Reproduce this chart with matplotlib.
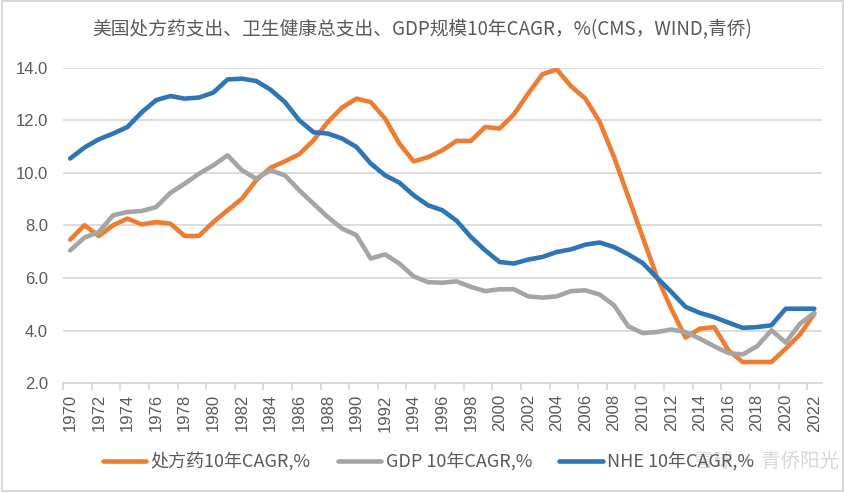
import numpy as np
import matplotlib.pyplot as plt

plt.rcParams['font.family'] = ['Noto Sans CJK SC', 'DejaVu Sans']

years = np.arange(1970, 2023)

rx_cagr = [7.46, 8.01, 7.60, 8.01, 8.26, 8.04, 8.13, 8.07, 7.60, 7.60,
           8.13, 8.58, 9.02, 9.72, 10.20, 10.44, 10.71, 11.24, 11.94, 12.49,
           12.83, 12.70, 12.07, 11.12, 10.44, 10.60, 10.86, 11.22, 11.22, 11.75,
           11.69, 12.23, 13.02, 13.76, 13.94, 13.30, 12.83, 11.94, 10.61, 9.09,
           7.56, 6.04, 4.83, 3.73, 4.07, 4.13, 3.24, 2.80, 2.80, 2.80,
           3.31, 3.85, 4.64]

gdp_cagr = [7.05, 7.54, 7.75, 8.39, 8.51, 8.55, 8.70, 9.24, 9.59, 9.97,
            10.29, 10.67, 10.10, 9.78, 10.10, 9.91, 9.34, 8.83, 8.32, 7.88,
            7.63, 6.74, 6.90, 6.55, 6.06, 5.84, 5.82, 5.87, 5.66, 5.50,
            5.57, 5.57, 5.30, 5.25, 5.30, 5.50, 5.53, 5.37, 4.96, 4.16,
            3.90, 3.94, 4.04, 3.94, 3.69, 3.40, 3.14, 3.09, 3.40, 4.01,
            3.54, 4.26, 4.68]

nhe_cagr = [10.55, 10.97, 11.28, 11.50, 11.75, 12.31, 12.77, 12.93, 12.83, 12.87,
            13.06, 13.56, 13.59, 13.50, 13.17, 12.70, 12.01, 11.55, 11.50, 11.31,
            10.99, 10.36, 9.91, 9.63, 9.15, 8.77, 8.58, 8.18, 7.56, 7.05,
            6.61, 6.55, 6.70, 6.80, 6.99, 7.09, 7.27, 7.35, 7.18, 6.90,
            6.57, 6.01, 5.47, 4.90, 4.67, 4.51, 4.30, 4.10, 4.13, 4.20,
            4.83, 4.83, 4.83]

labels = ['处方药10年CAGR,%', 'GDP 10年CAGR,%', 'NHE 10年CAGR,%']
colors = ['#ED7D31', '#A5A5A5', '#2E75B6']
title = '美国处方药支出、卫生健康总支出、GDP规模10年CAGR，%(CMS，WIND,青侨)'

fig = plt.figure(figsize=(8.45, 4.92), dpi=100)
ax = fig.add_axes([0.0746, 0.2215, 0.8976, 0.6405])

for vals, lab, c in zip([rx_cagr, gdp_cagr, nhe_cagr], labels, colors):
    ax.plot(years, vals, color=c, linewidth=3.3, label=lab, solid_capstyle='round')

ax.set_xlim(1969.5, 2022.5)
ax.set_ylim(2, 14)
ax.set_yticks(np.arange(2, 14.1, 2))
ax.set_yticklabels(['%.1f' % v for v in np.arange(2, 14.1, 2)], family='Liberation Sans')
ax.set_xticks(years[::2])
ax.set_xticklabels([str(y) for y in years[::2]], rotation=90, family='Liberation Sans')
ax.set_xticks(np.arange(1969.5, 2023, 2), minor=True)

ax.grid(axis='y', color='#D9D9D9', linewidth=1.3)
ax.set_axisbelow(True)
for s in ['top', 'right', 'left']:
    ax.spines[s].set_visible(False)
ax.spines['bottom'].set_color('#D9D9D9')
ax.spines['bottom'].set_linewidth(1.3)
ax.tick_params(axis='y', length=0, labelsize=12, colors='#595959', pad=11)
ax.tick_params(axis='x', which='major', length=0, labelsize=12, colors='#595959', pad=8)
ax.tick_params(axis='x', which='minor', length=5, color='#D9D9D9', width=1.3)

fig.text(0.5, 0.939, title, ha='center', va='center', fontsize=13.5, color='#595959')

fig.legend(loc='center', bbox_to_anchor=(0.507, 0.062), ncol=3, frameon=False,
           fontsize=13, labelcolor='#595959', handlelength=2.4, columnspacing=1.5,
           handletextpad=0.25)

# watermark
fig.text(0.993, 0.062, '雪球 · 青侨阳光', ha='right', va='center', fontsize=14,
         color='#BBBBBB', alpha=0.6)

fig.patches.append(plt.Rectangle((0.002, 0.003), 0.996, 0.994, transform=fig.transFigure,
                                 fill=False, edgecolor='#D9D9D9', linewidth=1.5))

fig.savefig('out.png', dpi=100)
